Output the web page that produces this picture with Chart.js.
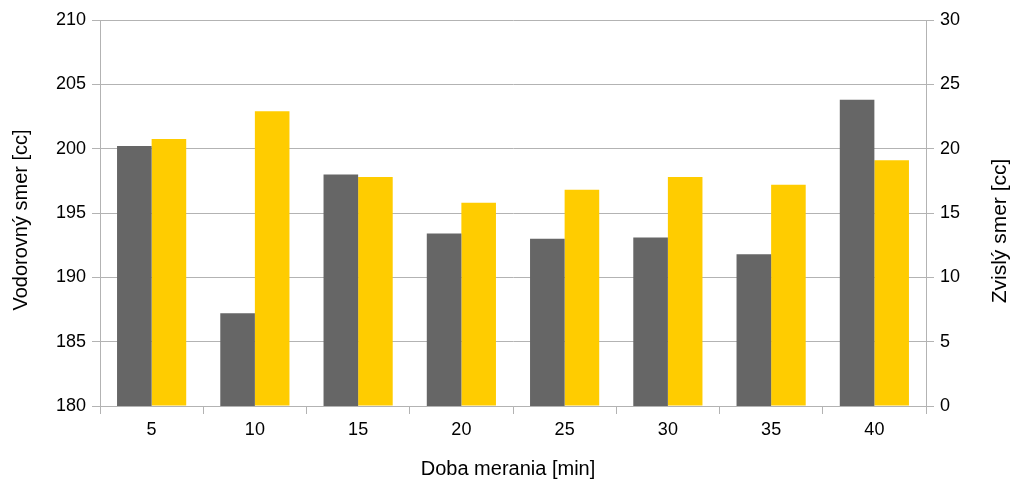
<!DOCTYPE html>
<html>
<head>
<meta charset="utf-8">
<script src="https://cdn.jsdelivr.net/npm/chart.js@4/dist/chart.umd.min.js"></script>
<style>
html,body{margin:0;padding:0;background:#fff;}
#wrap{width:1015px;height:481px;}
</style>
</head>
<body>
<div id="wrap"><canvas id="c" width="1015" height="481"></canvas></div>
<script>
const categories = ['5','10','15','20','25','30','35','40'];
const horizontalValues = [200.2, 187.2, 198.0, 193.4, 193.0, 193.1, 191.8, 203.8];
const verticalValues = [20.75, 22.9, 17.8, 15.8, 16.8, 17.8, 17.2, 19.1];
const leftAxisTitle = 'Vodorovný smer [cc]';
const rightAxisTitle = 'Zvislý smer [cc]';
const xAxisTitle = 'Doba merania [min]';

const FONT = "'Liberation Sans', Arial, sans-serif";
const GRID = '#b3b3b3';

const titlesPlugin = {
  id: 'axisTitles',
  afterDraw(chart) {
    const ctx = chart.ctx;
    const area = chart.chartArea;
    const midY = (area.top + area.bottom) / 2;
    ctx.save();
    ctx.fillStyle = '#000';
    ctx.textAlign = 'center';
    ctx.textBaseline = 'middle';
    // left title
    ctx.save();
    ctx.translate(21, midY + 7);
    ctx.rotate(-Math.PI / 2);
    ctx.font = '20px ' + FONT;
    ctx.fillText(leftAxisTitle, 0, 0);
    ctx.restore();
    // right title
    ctx.save();
    ctx.translate(1000, midY + 18);
    ctx.rotate(-Math.PI / 2);
    ctx.font = '21px ' + FONT;
    ctx.fillText(rightAxisTitle, 0, 0);
    ctx.restore();
    // x title
    ctx.font = '20px ' + FONT;
    ctx.fillText(xAxisTitle, (area.left + area.right) / 2 - 5, 469);
    ctx.restore();
  }
};

new Chart(document.getElementById('c'), {
  type: 'bar',
  data: {
    labels: categories,
    datasets: [
      { label: leftAxisTitle, data: horizontalValues, backgroundColor: '#666666', yAxisID: 'y' },
      { label: rightAxisTitle, data: verticalValues, backgroundColor: '#ffcc00', yAxisID: 'y1' }
    ]
  },
  plugins: [titlesPlugin],
  options: {
    responsive: false,
    animation: false,
    devicePixelRatio: 1,
    categoryPercentage: 0.67,
    barPercentage: 1.0,
    layout: { padding: { top: 20, left: 0, right: 0, bottom: 0 } },
    plugins: { legend: { display: false }, tooltip: { enabled: false } },
    scales: {
      x: {
        offset: true,
        grid: { offset: true, drawOnChartArea: false, drawTicks: true, tickLength: 8, color: GRID },
        border: { color: GRID },
        ticks: { font: { family: FONT, size: 18 }, color: '#000', padding: 5 },
        afterFit: s => { s.height = 75; }
      },
      y: {
        position: 'left',
        min: 180, max: 210,
        grid: { color: GRID, tickLength: 8 },
        border: { color: GRID },
        ticks: { stepSize: 5, font: { family: FONT, size: 18 }, color: '#000', padding: 6 },
        afterFit: s => { s.width = 100; }
      },
      y1: {
        position: 'right',
        min: 0, max: 30,
        grid: { drawOnChartArea: false, color: GRID, tickLength: 8 },
        border: { color: GRID },
        ticks: { stepSize: 5, font: { family: FONT, size: 18 }, color: '#000', padding: 6 },
        afterFit: s => { s.width = 89; }
      }
    }
  }
});
</script>
</body>
</html>
